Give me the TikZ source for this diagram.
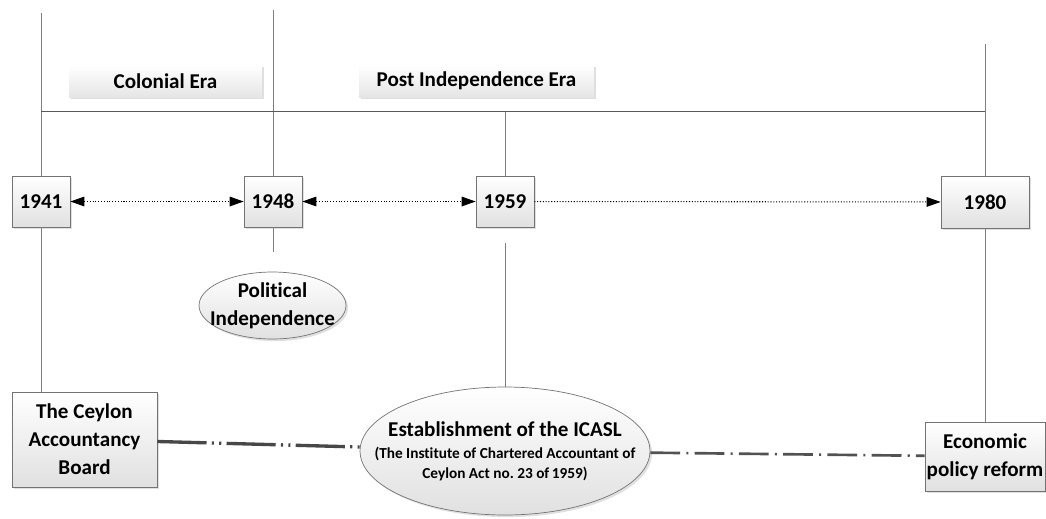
\documentclass[tikz,border=0pt]{standalone}
\usepackage{fontspec}
\setmainfont{Carlito}[Ligatures=NoCommon,Contextuals=NoAlternate]
\usepackage{tikz}
\usetikzlibrary{arrows.meta,shapes.geometric,shadows,positioning}

\begin{document}
\begin{tikzpicture}[x=0.02cm,y=-0.02cm,>={Triangle[length=8pt,width=5.5pt]},
  thin,
  shaded box/.style={draw=black!55,top color=white,bottom color=black!12,
    drop shadow={shadow xshift=1.2pt,shadow yshift=-1.2pt,fill=black!30,opacity=0.4}},
  year node/.style={rectangle,shaded box,minimum width=1.16cm,minimum height=1.02cm,
    font=\fontsize{12}{16}\selectfont\bfseries},
  event box/.style={rectangle,shaded box,align=center,inner sep=1pt,
    font=\fontsize{12}{16}\selectfont\bfseries},
  event oval/.style={ellipse,shaded box,align=center,inner xsep=-20pt,inner ysep=0pt,
    font=\fontsize{12}{16}\selectfont\bfseries},
  era tab/.style={rectangle,top color=white,bottom color=black!10,minimum height=0.64cm,
    drop shadow={shadow xshift=1pt,shadow yshift=-1pt,fill=black!25,opacity=0.5},
    font=\fontsize{12}{14}\selectfont\bfseries},
  era line/.style={draw=black!50},
  time arrow/.style={densely dotted,line width=0.6pt,black},
  link a/.style={line width=1.9pt,draw=black!72,dash pattern=on 28pt off 3pt on 1.2pt off 3pt on 1.2pt off 3pt},
  link b/.style={line width=1.5pt,draw=black!68,dash pattern=on 17pt off 3.5pt on 1.2pt off 3.5pt}]
          \useasboundingbox (0,0) rectangle (1046,518);
          \node[era tab,minimum width=3.86cm] at (165.5,81) (colonial) {Colonial Era};
          \node[era tab,minimum width=4.7cm] at (476.5,81) (postind) {Post Independence Era};
          \coordinate (top41) at (41,13);
          \coordinate (top48) at (273,10);
          \coordinate (end48) at (273,252);
          \coordinate (top80) at (985,44);
          \coordinate (hl) at (41,111);
          \coordinate (hr) at (985,111);
          \coordinate (h59) at (505,111);
          \coordinate (low59) at (505,243);
          \node[year node] at (41,201.5) (y1941) {1941};
          \node[year node] at (273,201.5) (y1948) {1948};
          \node[year node] at (505,201.5) (y1959) {1959};
          \node[year node,minimum width=1.76cm,minimum height=1.04cm] at (985,202) (y1980) {1980};
          \node[event oval,minimum width=2.94cm,minimum height=1.34cm] at (272.5,305.5) (polind) {Political\\Independence};
          \node[event box,minimum width=2.9cm,minimum height=1.9cm] at (84.5,439.5) (ceylon) {The Ceylon\\Accountancy\\Board};
          \node[event oval,minimum width=5.8cm,minimum height=2.56cm] at (505,451) (icasl)
            {Establishment of the ICASL\\[-3pt]{\fontsize{8.7}{10.5}\selectfont (The Institute of Chartered Accountant of}\\[-5pt]{\fontsize{8.7}{10.5}\selectfont Ceylon Act no.\ 23 of\,1959)}};
          \node[event box,minimum width=2.4cm,minimum height=1.38cm] at (985,456.5) (econ) {Economic\\policy reform};
          \draw[era line] (top41)--(y1941);
          \draw[era line] (y1941)--(top41 |- ceylon.north);
          \draw[era line] (top48)--(y1948);
          \draw[era line] (y1948)--(end48);
          \draw[era line] (h59)--(y1959);
          \draw[era line] (low59)--(icasl);
          \draw[era line] (top80)--(y1980);
          \draw[era line] (y1980)--(econ);
          \draw[draw=black!65] (hl)--(hr);
          \draw[time arrow,<->] (y1941)--(y1948);
          \draw[time arrow,<->] (y1948)--(y1959);
          \draw[time arrow,->] (y1959)--(y1980);
          \draw[link a] (ceylon)--(icasl);
          \draw[link b] (icasl)--(econ);
        \end{tikzpicture}
\end{document}
